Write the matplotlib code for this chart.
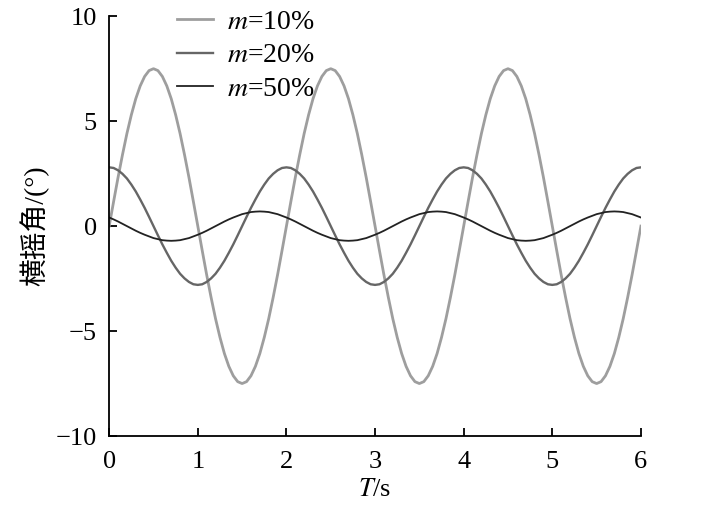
import numpy as np
import matplotlib
matplotlib.use("Agg")
import matplotlib.pyplot as plt

# time axis, 0.05 s steps; roll angles
t = np.round(np.arange(0, 6.0001, 0.05), 2)

roll_m10 = [
    0, 1.17, 2.32, 3.40, 4.41, 5.30, 6.07, 6.68, 7.13, 7.41, 7.5, 7.41, 7.13, 6.68, 6.07, 5.30, 4.41, 3.40, 2.32, 1.17,
    0, -1.17, -2.32, -3.40, -4.41, -5.30, -6.07, -6.68, -7.13, -7.41, -7.5, -7.41, -7.13, -6.68, -6.07, -5.30, -4.41, -3.40, -2.32, -1.17,
    0, 1.17, 2.32, 3.40, 4.41, 5.30, 6.07, 6.68, 7.13, 7.41, 7.5, 7.41, 7.13, 6.68, 6.07, 5.30, 4.41, 3.40, 2.32, 1.17,
    0, -1.17, -2.32, -3.40, -4.41, -5.30, -6.07, -6.68, -7.13, -7.41, -7.5, -7.41, -7.13, -6.68, -6.07, -5.30, -4.41, -3.40, -2.32, -1.17,
    0, 1.17, 2.32, 3.40, 4.41, 5.30, 6.07, 6.68, 7.13, 7.41, 7.5, 7.41, 7.13, 6.68, 6.07, 5.30, 4.41, 3.40, 2.32, 1.17,
    0, -1.17, -2.32, -3.40, -4.41, -5.30, -6.07, -6.68, -7.13, -7.41, -7.5, -7.41, -7.13, -6.68, -6.07, -5.30, -4.41, -3.40, -2.32, -1.17,
    0]
roll_m20 = [
    2.8, 2.77, 2.66, 2.49, 2.27, 1.98, 1.65, 1.27, 0.87, 0.44, 0, -0.44, -0.87, -1.27, -1.65, -1.98, -2.27, -2.49, -2.66, -2.77,
    -2.8, -2.77, -2.66, -2.49, -2.27, -1.98, -1.65, -1.27, -0.87, -0.44, 0, 0.44, 0.87, 1.27, 1.65, 1.98, 2.27, 2.49, 2.66, 2.77,
    2.8, 2.77, 2.66, 2.49, 2.27, 1.98, 1.65, 1.27, 0.87, 0.44, 0, -0.44, -0.87, -1.27, -1.65, -1.98, -2.27, -2.49, -2.66, -2.77,
    -2.8, -2.77, -2.66, -2.49, -2.27, -1.98, -1.65, -1.27, -0.87, -0.44, 0, 0.44, 0.87, 1.27, 1.65, 1.98, 2.27, 2.49, 2.66, 2.77,
    2.8, 2.77, 2.66, 2.49, 2.27, 1.98, 1.65, 1.27, 0.87, 0.44, 0, -0.44, -0.87, -1.27, -1.65, -1.98, -2.27, -2.49, -2.66, -2.77,
    -2.8, -2.77, -2.66, -2.49, -2.27, -1.98, -1.65, -1.27, -0.87, -0.44, 0, 0.44, 0.87, 1.27, 1.65, 1.98, 2.27, 2.49, 2.66, 2.77,
    2.8]
roll_m50 = [
    0.41, 0.32, 0.22, 0.11, 0, -0.11, -0.22, -0.32, -0.41, -0.49, -0.57, -0.62, -0.67, -0.69, -0.7, -0.69, -0.67, -0.62, -0.57, -0.49,
    -0.41, -0.32, -0.22, -0.11, 0, 0.11, 0.22, 0.32, 0.41, 0.49, 0.57, 0.62, 0.67, 0.69, 0.7, 0.69, 0.67, 0.62, 0.57, 0.49,
    0.41, 0.32, 0.22, 0.11, 0, -0.11, -0.22, -0.32, -0.41, -0.49, -0.57, -0.62, -0.67, -0.69, -0.7, -0.69, -0.67, -0.62, -0.57, -0.49,
    -0.41, -0.32, -0.22, -0.11, 0, 0.11, 0.22, 0.32, 0.41, 0.49, 0.57, 0.62, 0.67, 0.69, 0.7, 0.69, 0.67, 0.62, 0.57, 0.49,
    0.41, 0.32, 0.22, 0.11, 0, -0.11, -0.22, -0.32, -0.41, -0.49, -0.57, -0.62, -0.67, -0.69, -0.7, -0.69, -0.67, -0.62, -0.57, -0.49,
    -0.41, -0.32, -0.22, -0.11, 0, 0.11, 0.22, 0.32, 0.41, 0.49, 0.57, 0.62, 0.67, 0.69, 0.7, 0.69, 0.67, 0.62, 0.57, 0.49,
    0.41]

labels = ["$m$=10%", "$m$=20%", "$m$=50%"]
xticks = [0, 1, 2, 3, 4, 5, 6]
yticks = [-10, -5, 0, 5, 10]
ytick_labels = ["\u221210", "\u22125", "0", "5", "10"]

plt.rcParams["font.family"] = ["Liberation Serif", "Noto Sans CJK SC"]
plt.rcParams["mathtext.fontset"] = "stix"

fig = plt.figure(figsize=(7.09, 5.07), dpi=100)
ax = fig.add_axes([0.154, 0.140, 0.750, 0.828])

ax.plot(t, roll_m10, color="#9e9e9e", lw=2.0, label=labels[0])
ax.plot(t, roll_m20, color="#666666", lw=1.7, label=labels[1])
ax.plot(t, roll_m50, color="#222222", lw=1.3, label=labels[2])

ax.set_xlim(0, 6)
ax.set_ylim(-10, 10)
ax.set_xticks(xticks)
ax.set_yticks(yticks)
ax.set_yticklabels(ytick_labels)
ax.tick_params(direction="in", length=6, width=1.3, labelsize=19)
ax.tick_params(axis="x", pad=11)
ax.tick_params(axis="y", pad=9)
for s in ["top", "right"]:
    ax.spines[s].set_visible(False)
for s in ["left", "bottom"]:
    ax.spines[s].set_linewidth(1.3)

ax.set_xlabel("$T$/s", fontsize=19, labelpad=4)
ax.set_ylabel("横摇角/(°)", fontsize=20, labelpad=4)

ax.legend(loc="upper left", bbox_to_anchor=(0.08, 1.075), frameon=False,
          handlelength=1.3, handletextpad=0.5, labelspacing=0.28, fontsize=20)

fig.savefig("out.png", dpi=100)
